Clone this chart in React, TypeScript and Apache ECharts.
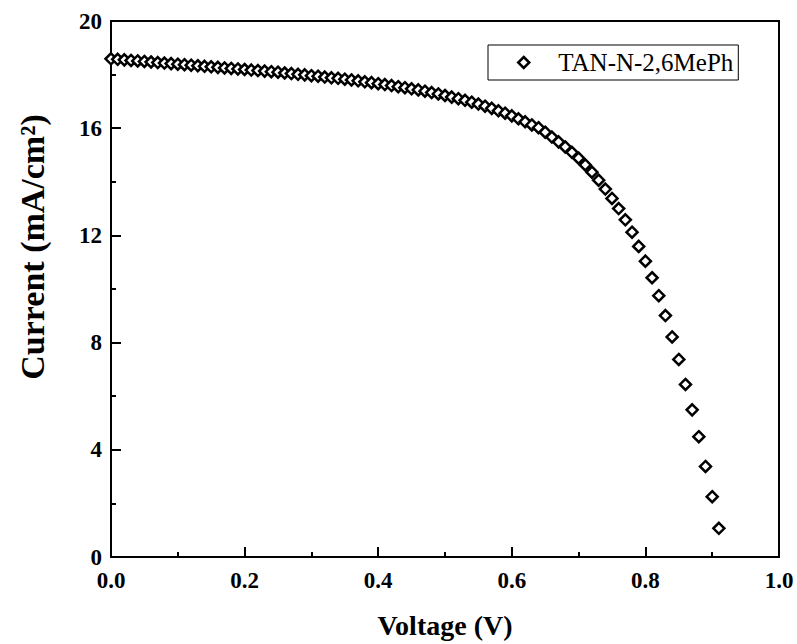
import React, { useEffect, useRef } from "react";
import * as echarts from "echarts";

const voltage: number[] = [
  0.0, 0.01, 0.02, 0.03, 0.04, 0.05, 0.06, 0.07, 0.08, 0.09,
  0.1, 0.11, 0.12, 0.13, 0.14, 0.15, 0.16, 0.17, 0.18, 0.19,
  0.2, 0.21, 0.22, 0.23, 0.24, 0.25, 0.26, 0.27, 0.28, 0.29,
  0.3, 0.31, 0.32, 0.33, 0.34, 0.35, 0.36, 0.37, 0.38, 0.39,
  0.4, 0.41, 0.42, 0.43, 0.44, 0.45, 0.46, 0.47, 0.48, 0.49,
  0.5, 0.51, 0.52, 0.53, 0.54, 0.55, 0.56, 0.57, 0.58, 0.59,
  0.6, 0.61, 0.62, 0.63, 0.64, 0.65, 0.66, 0.67, 0.68, 0.69,
  0.7, 0.71, 0.72, 0.73, 0.74, 0.75, 0.76, 0.77, 0.78, 0.79,
  0.8, 0.81, 0.82, 0.83, 0.84, 0.85, 0.86, 0.87, 0.88, 0.89,
  0.9, 0.91, 0.92,
];

const current: number[] = [
  18.59, 18.57, 18.55, 18.53, 18.51, 18.49, 18.47, 18.45, 18.43, 18.41,
  18.39, 18.37, 18.35, 18.33, 18.31, 18.29, 18.27, 18.25, 18.23, 18.21,
  18.19, 18.17, 18.15, 18.13, 18.11, 18.09, 18.06, 18.04, 18.01, 17.99,
  17.96, 17.94, 17.91, 17.88, 17.86, 17.83, 17.8, 17.77, 17.73, 17.7,
  17.66, 17.63, 17.59, 17.55, 17.51, 17.47, 17.43, 17.38, 17.33, 17.28,
  17.22, 17.16, 17.1, 17.04, 16.97, 16.9, 16.82, 16.74, 16.65, 16.56,
  16.46, 16.35, 16.24, 16.12, 16.02, 15.85, 15.67, 15.49, 15.3, 15.1,
  14.88, 14.63, 14.36, 14.06, 13.73, 13.38, 13.0, 12.58, 12.12, 11.59,
  11.04, 10.42, 9.75, 9.01, 8.21, 7.37, 6.44, 5.49, 4.49, 3.38,
  2.25, 1.07, -0.15,
];

const seriesName = "TAN-N-2,6MePh";
const xTitle = "Voltage (V)";
const yTitle = "Current (mA/cm\u00B2)";

const FONT = "'Liberation Serif', 'Times New Roman', serif";

export default function App() {
  const ref = useRef<HTMLDivElement>(null);

  useEffect(() => {
    if (!ref.current) return;
    const chart = echarts.init(ref.current, null, { renderer: "svg" });
    const data = voltage.map((v, i) => [v, current[i]]);
    chart.setOption({
      animation: false,
      backgroundColor: "#fff",
      grid: {
        left: 111,
        right: 18,
        top: 21,
        bottom: 80,
        show: true,
        borderColor: "#000",
        borderWidth: 2,
        backgroundColor: "transparent",
      },
      legend: {
        left: 488,
        top: 45,
        orient: "horizontal",
        borderColor: "#000",
        borderWidth: 1,
        borderRadius: 0,
        padding: [5, 5, 5, 29],
        itemWidth: 11,
        itemHeight: 11,
        itemStyle: {
          color: "#fff",
          borderColor: "#000",
          borderWidth: 2.5,
        },
        textStyle: {
          fontFamily: FONT,
          fontSize: 25,
          color: "#000",
          padding: [0, 0, 0, 24],
        },
        data: [{ name: seriesName, icon: "diamond" }],
      },
      xAxis: {
        type: "value",
        min: 0,
        max: 1,
        interval: 0.2,
        name: xTitle,
        nameLocation: "middle",
        nameGap: 54,
        nameTextStyle: {
          fontFamily: FONT,
          fontSize: 28,
          fontWeight: "bold",
          color: "#000",
        },
        axisLine: { show: true, lineStyle: { color: "#000", width: 2 } },
        axisTick: {
          show: true,
          inside: true,
          length: 10,
          lineStyle: { color: "#000", width: 2 },
        },
        minorTick: {
          show: true,
          splitNumber: 2,
          length: 5,
          lineStyle: { color: "#000", width: 2 },
        },
        splitLine: { show: false },
        axisLabel: {
          fontFamily: FONT,
          fontSize: 23,
          fontWeight: "bold",
          color: "#000",
          margin: 12,
          formatter: (v: number) => v.toFixed(1),
        },
      },
      yAxis: {
        type: "value",
        min: 0,
        max: 20,
        interval: 4,
        name: yTitle,
        nameLocation: "middle",
        nameGap: 62,
        nameRotate: 90,
        nameTextStyle: {
          fontFamily: FONT,
          fontSize: 34,
          fontWeight: "bold",
          color: "#000",
          padding: [0, 0, 0, 84],
        },
        axisLine: { show: true, lineStyle: { color: "#000", width: 2 } },
        axisTick: {
          show: true,
          inside: true,
          length: 10,
          lineStyle: { color: "#000", width: 2 },
        },
        minorTick: {
          show: true,
          splitNumber: 2,
          length: 5,
          lineStyle: { color: "#000", width: 2 },
        },
        splitLine: { show: false },
        axisLabel: {
          fontFamily: FONT,
          fontSize: 23,
          fontWeight: "bold",
          color: "#000",
          margin: 9,
        },
      },
      series: [
        {
          name: seriesName,
          type: "scatter",
          symbol: "diamond",
          symbolSize: 11,
          clip: true,
          itemStyle: {
            color: "#fff",
            borderColor: "#000",
            borderWidth: 2.5,
            opacity: 1,
          },
          data,
        },
      ],
    });
    return () => chart.dispose();
  }, []);

  return (
    <div
      ref={ref}
      style={{ position: "absolute", left: 0, top: 0, width: 797, height: 644 }}
    />
  );
}
